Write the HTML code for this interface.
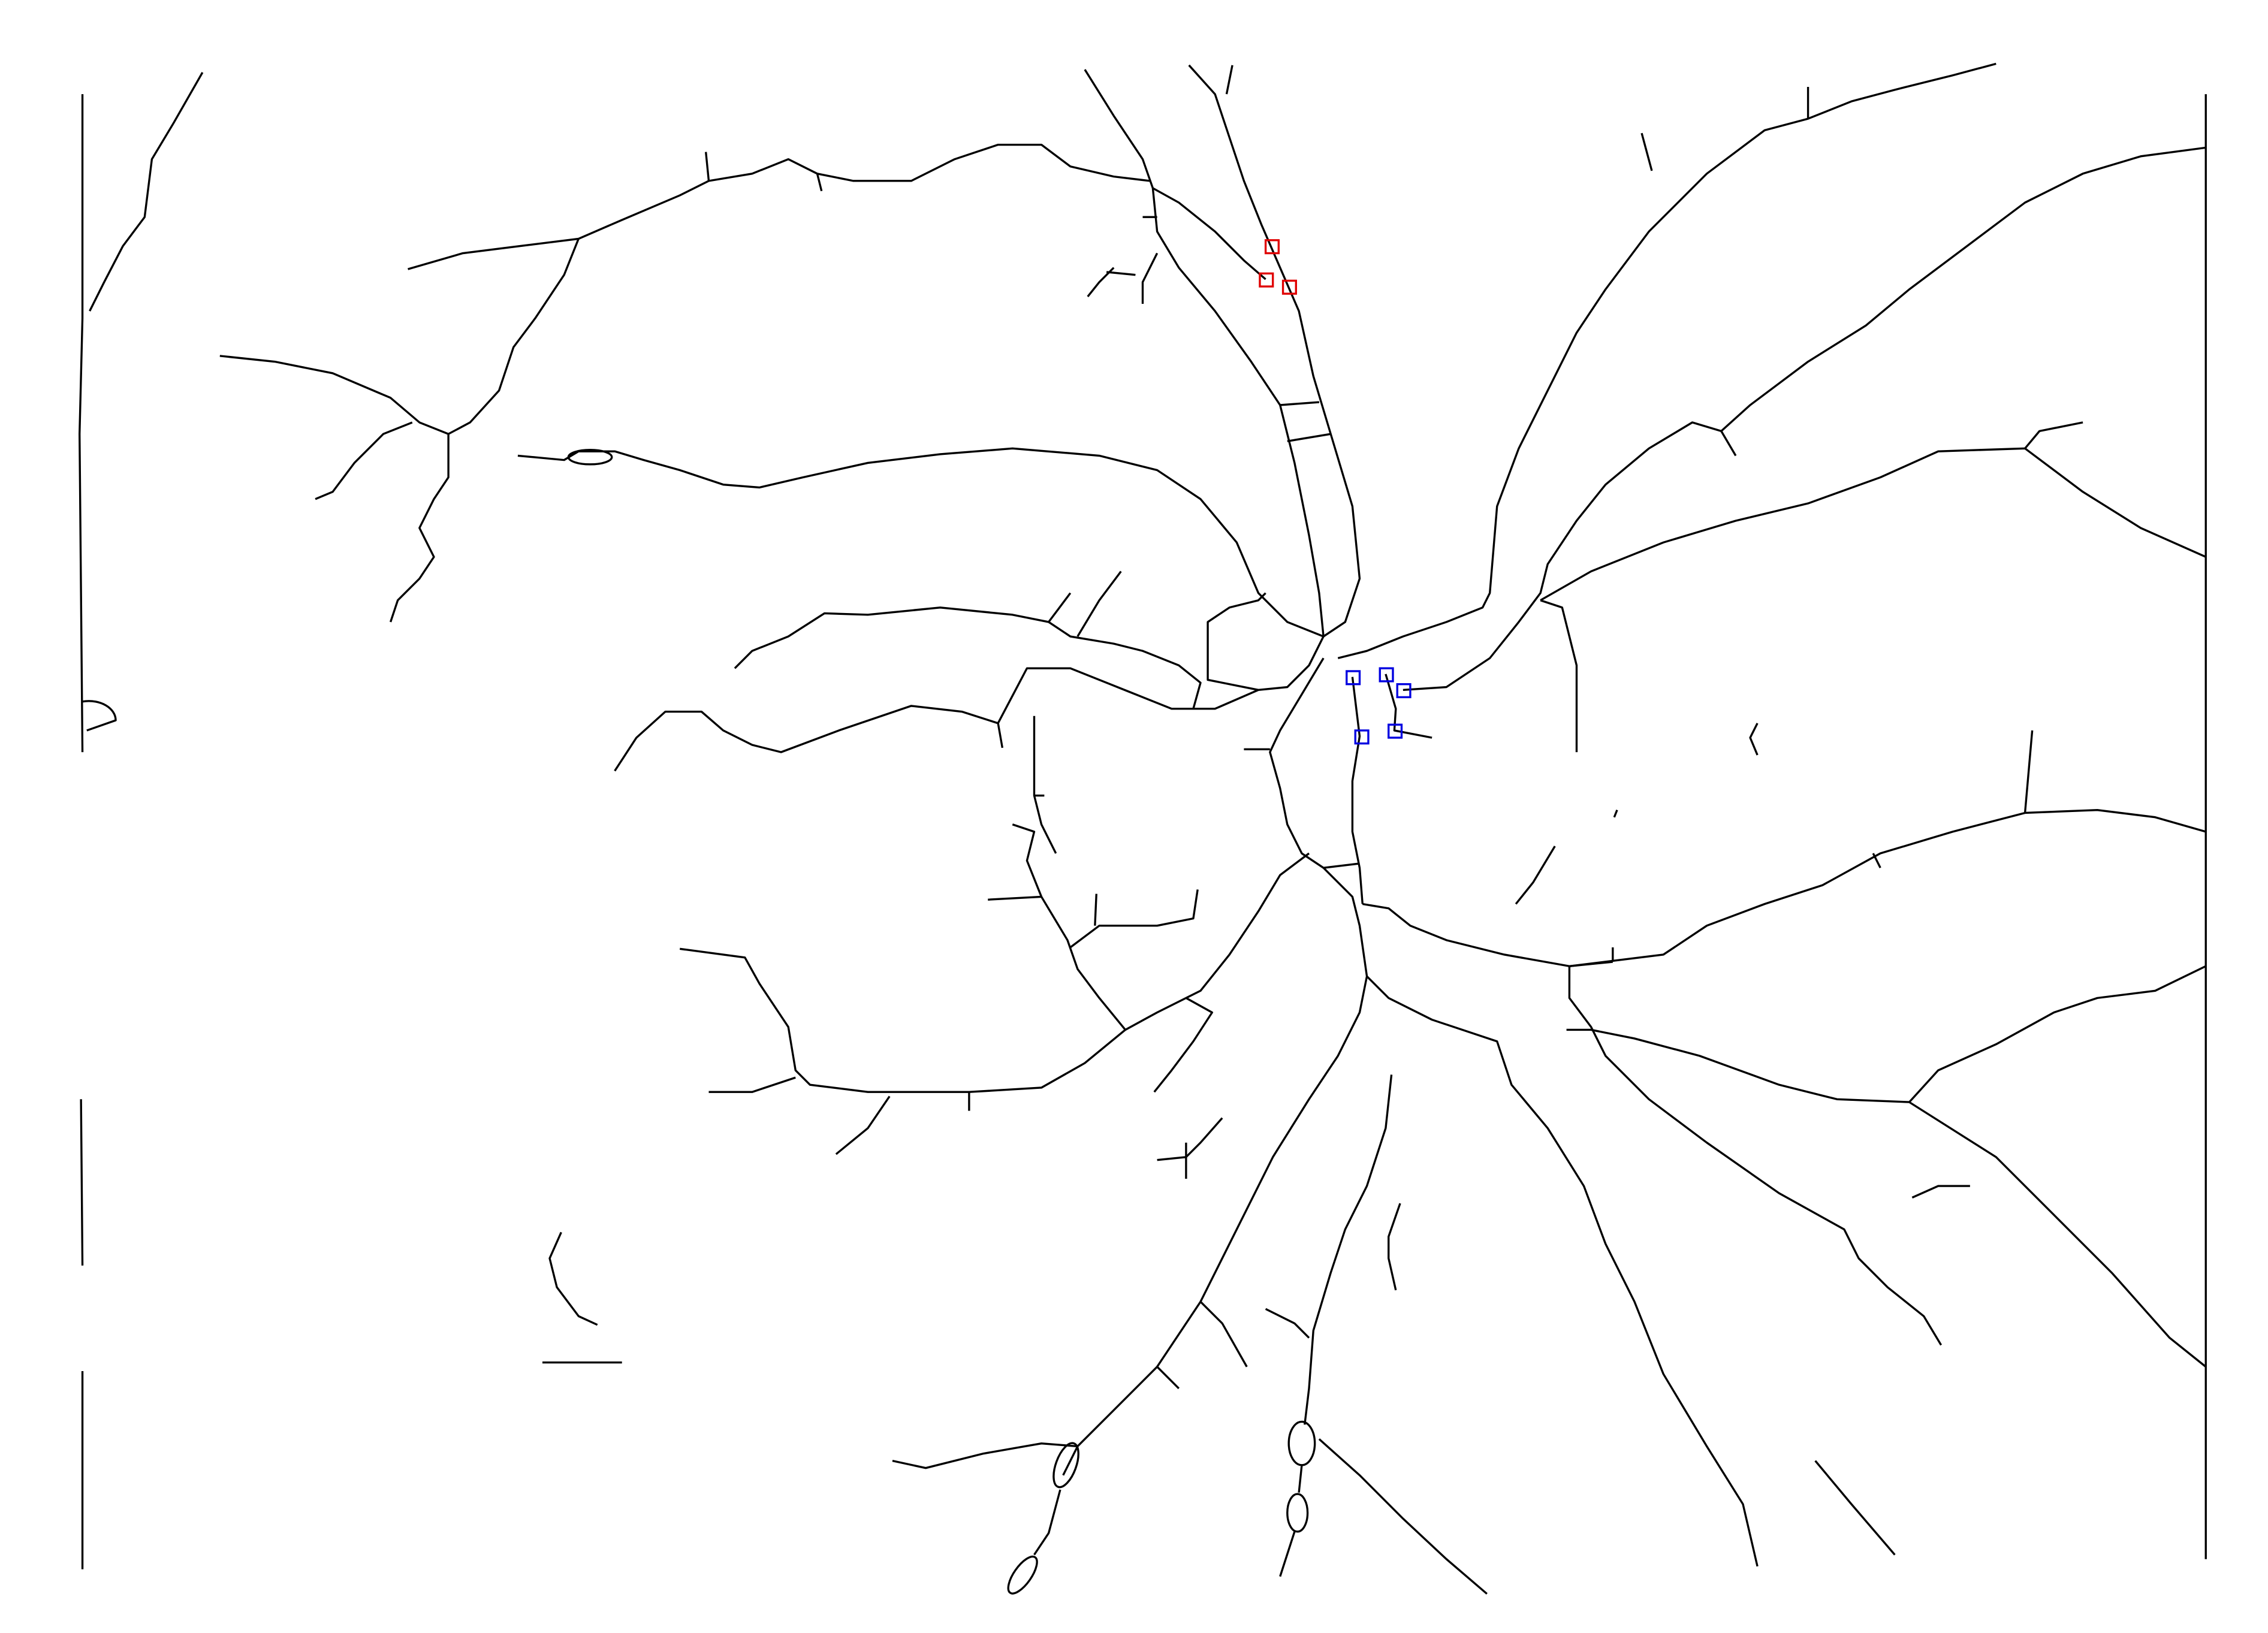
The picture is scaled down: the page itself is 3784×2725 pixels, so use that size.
<!DOCTYPE html>
<html><head><meta charset="utf-8"><style>
html,body{margin:0;padding:0;background:#fff;}
svg{display:block;}
</style></head><body>
<svg width="3784" height="2725" viewBox="0 0 1568 1129" xmlns="http://www.w3.org/2000/svg">
<rect width="1568" height="1129" fill="#fff"/>
<g fill="none" stroke="#000" stroke-width="1.4" stroke-linejoin="round">
<path d="M57,65 L57,220 L55,300 L57,520"/>
<path d="M57,485 C70,483 80,490 80,498 L60,505"/>
<path d="M140,50 L120,85 L105,110 L100,150 L85,170 L72,195 L62,215"/>
<path d="M56,760 L57,875 M57,948 L57,1085"/>
<path d="M1525,65 L1525,1078"/>
<path d="M282,186 L320,175 L360,170 L400,165 L430,152 L470,135 L490,125 L520,120 L545,110 L565,120 L590,125 L630,125 L660,110 L690,100 L720,100 L740,115 L770,122 L795,125"/>
<path d="M488,105 L490,125 M565,120 L568,132"/>
<path d="M400,165 L390,190 L370,220 L355,240 L345,270 L325,292 L310,300"/>
<path d="M152,246 L190,250 L230,258 L270,275 L290,292 L310,300 L310,330 L300,345 L290,365 L300,385 L290,400 L275,415 L270,430"/>
<path d="M285,292 L265,300 L245,320 L230,340 L218,345"/>
<path d="M750,48 L770,80 L790,110 L797,130 L800,160 L815,185 L840,215 L865,250 L885,280 L895,320 L905,370 L912,410 L915,440"/>
<path d="M822,45 L840,65 L850,95 L860,125 L872,155 L885,185 L898,215 L908,260 L920,300 L935,350 L940,400 L930,430 L915,440"/>
<path d="M797,130 L815,140 L840,160 L860,180 L875,193"/>
<path d="M852,45 L848,65 M800,175 L790,195 L790,210 M770,185 L760,195 L752,205 M800,150 L790,150 M785,190 L765,188"/>
<path d="M885,280 L912,278 M890,305 L920,300"/>
<path d="M358,315 L390,318 L400,312 L425,312 L445,318 L470,325 L500,335 L525,337 L555,330 L600,320 L650,314 L700,310 L760,315 L800,325 L830,345 L855,375 L870,410 L890,430 L915,440"/>
<ellipse cx="408" cy="316" rx="15" ry="5"/>
<path d="M508,462 L520,450 L545,440 L570,424 L600,425 L650,420 L700,425 L725,430 L740,440 L770,445 L790,450 L815,460 L830,472 L825,490"/>
<path d="M725,430 L740,410 M745,440 L760,415 L775,395"/>
<path d="M425,533 L440,510 L460,492 L485,492 L500,505 L520,515 L540,520 L580,505 L630,488 L665,492 L690,500 L710,462 L740,462 L780,478 L810,490 L840,490 L870,477 L890,475 L905,460 L915,440"/>
<path d="M690,500 L693,517"/>
<path d="M870,477 L835,470 L835,430 L850,420 L870,415 L875,410"/>
<path d="M915,455 L900,480 L885,505 L878,520 L885,545 L890,570 L900,590 L915,600 L935,620 L940,640 L945,675 L940,700 L925,730 L905,760 L880,800 L860,840 L830,900 L800,945 L770,975 L745,1000 L735,1020"/>
<path d="M878,518 L860,518"/>
<path d="M935,468 L940,509 L935,540 L935,575 L940,600 L942,625"/>
<path d="M915,600 L940,597"/>
<path d="M925,455 L945,450 L970,440 L1000,430 L1025,420 L1030,410 L1035,350 L1050,310 L1070,270 L1090,230 L1110,200 L1140,160 L1180,120 L1220,90 L1250,82 L1280,70 L1310,62 L1350,52 L1380,44"/>
<path d="M1250,60 L1250,82"/>
<path d="M970,477 L1000,475 L1030,455 L1050,430 L1065,410 L1070,390 L1090,360 L1110,335 L1140,310 L1170,292 L1190,298 L1210,280 L1250,250 L1290,225 L1320,200 L1360,170 L1400,140 L1440,120 L1480,108 L1525,102"/>
<path d="M1065,415 L1080,420 L1090,460 L1090,520"/>
<path d="M1065,415 L1100,395 L1150,375 L1200,360 L1250,348 L1300,330 L1340,312 L1400,310 L1440,340 L1480,365 L1525,385"/>
<path d="M1400,310 L1410,298 L1440,292 M1190,298 L1200,315"/>
<path d="M958,466 L965,490 L964,505 L990,510"/>
<path d="M942,625 L960,628 L975,640 L1000,650 L1040,660 L1085,668 L1150,660 L1180,640 L1220,625 L1260,612 L1300,590 L1350,575 L1400,562 L1450,560 L1490,565 L1525,575"/>
<path d="M1400,562 L1405,505 M1295,590 L1300,600"/>
<path d="M1085,668 L1085,690 L1100,710 L1110,730 L1140,760 L1180,790 L1230,825 L1275,850 L1285,870 L1305,890 L1330,910 L1342,930"/>
<path d="M1085,668 L1115,665 M1115,655 L1115,665"/>
<path d="M1083,712 L1100,712 L1130,718 L1175,730 L1230,750 L1270,760 L1320,762 L1380,800 L1420,840 L1460,880 L1500,925 L1525,945"/>
<path d="M1320,762 L1340,740 L1380,722 L1420,700 L1450,690 L1490,685 L1525,668"/>
<path d="M945,675 L960,690 L990,705 L1035,720 L1045,750 L1070,780 L1095,820 L1110,860 L1130,900 L1150,950 L1180,1000 L1205,1040 L1215,1083"/>
<path d="M905,590 L885,605 L870,630 L850,660 L830,685 L800,700 L778,712 L760,690 L745,670 L738,650 L720,620 L710,595 L715,575 L700,570"/>
<path d="M778,712 L750,735 L720,752 L670,755 L600,755 L560,750 L550,740 L545,710 L525,680 L515,662 L470,656"/>
<path d="M550,745 L520,755 L490,755 M615,758 L600,780 L578,798 M670,755 L670,768"/>
<path d="M720,620 L683,622 M740,655 L760,640 L800,640 L825,635 L828,615 M757,640 L758,618"/>
<path d="M715,495 L715,550 L720,570 L730,590 M715,550 L722,550"/>
<path d="M820,690 L838,700 L825,720 L810,740 L798,755"/>
<path d="M845,773 L830,790 L820,800 L800,802 M820,790 L820,815"/>
<path d="M830,900 L845,915 L862,945 M800,945 L815,960"/>
<path d="M745,1000 L720,998 L680,1005 L640,1015 L617,1010"/>
<ellipse cx="737" cy="1013" rx="7" ry="16" transform="rotate(20 737 1013)"/>
<path d="M733,1030 L725,1060 L715,1075"/>
<ellipse cx="707" cy="1089" rx="6" ry="15" transform="rotate(35 707 1089)"/>
<path d="M962,743 L958,780 L945,820 L930,850 L920,880 L908,920 L905,960 L902,985"/>
<ellipse cx="900" cy="998" rx="9" ry="15"/>
<path d="M900,1013 L898,1032"/>
<ellipse cx="897" cy="1046" rx="7" ry="13"/>
<path d="M895,1059 L885,1090"/>
<path d="M875,905 L895,915 L905,925"/>
<path d="M912,995 L940,1020 L970,1050 L1000,1078 L1028,1102"/>
<path d="M1135,92 L1142,118 M1215,500 L1210,510 L1215,522 M1118,560 L1116,565 M1075,585 L1060,610 L1048,625"/>
<path d="M968,832 L960,855 L960,870 L965,892 M388,852 L380,870 L385,890 L400,910 L413,916 M375,942 L430,942"/>
<path d="M1322,828 L1340,820 L1362,820 M1255,1010 L1280,1040 L1310,1075"/>
</g>
<g fill="none" stroke="#e00000" stroke-width="1.4">
<rect x="875" y="166" width="9" height="9"/>
<rect x="871" y="189" width="9" height="9"/>
<rect x="887" y="194" width="9" height="9"/>
</g>
<g fill="none" stroke="#0000e0" stroke-width="1.4">
<rect x="931" y="464" width="9" height="9"/>
<rect x="954" y="462" width="9" height="9"/>
<rect x="966" y="473" width="9" height="9"/>
<rect x="937" y="505" width="9" height="9"/>
<rect x="960" y="501" width="9" height="9"/>
</g>
</svg>
</body></html>
